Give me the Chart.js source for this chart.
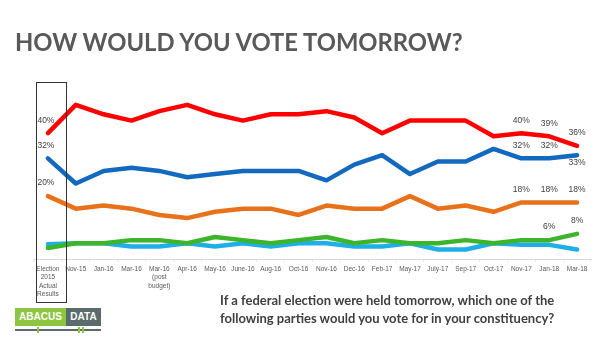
<!DOCTYPE html>
<html>
<head>
<meta charset="utf-8">
<script src="https://cdn.jsdelivr.net/npm/chart.js@4.4.1/dist/chart.umd.min.js"></script>
<style>
  html, body { margin:0; padding:0; background:#fff; }
  #wrap { position:relative; width:610px; height:343px; overflow:hidden; }
  #chart { position:absolute; left:0; top:0; }
  #title {
    position:absolute; left:15px; top:31px; white-space:nowrap;
    font-family:'Lato', 'Liberation Sans', sans-serif; font-weight:700;
    font-size:27px; color:#595959; line-height:1;
  }
  #question {
    position:absolute; left:220px; top:291px; white-space:nowrap;
    font-family:'Lato', 'Liberation Sans', sans-serif; font-weight:700;
    font-size:13px; color:#3f3f3f; line-height:18px;
  }
  .logo { position:absolute; top:308px; height:18px; color:#fff;
    font-family:'Liberation Sans', sans-serif; font-weight:700; font-size:10px;
    line-height:18px; text-align:center; }
  #lg1 { left:15px; width:51px; background:#8cc63e; }
  #lg2 { left:66px; width:35px; background:#5b6b6b; }
  #lgline { position:absolute; left:15px; top:329px; width:86px; height:2px; background:#5b6b6b; }
  .mk { position:absolute; top:327px; width:2px; height:6px; background:#8cc63e; }
</style>
</head>
<body>
<div id="wrap">
  <canvas id="chart" width="610" height="343"></canvas>
  <div id="title">HOW WOULD YOU VOTE TOMORROW?</div>
  <div id="question">If a federal election were held tomorrow, which one of the<br>following parties would you vote for in your constituency?</div>
  <div class="logo" id="lg1">ABACUS</div>
  <div class="logo" id="lg2">DATA</div>
  <div id="lgline"></div>
  <div class="mk" style="left:37px"></div>
  <div class="mk" style="left:78px"></div>
  <div class="mk" style="left:82px"></div>
</div>
<script>
// ---- data ----
const categories = [
  ['Election', '2015', 'Actual', 'Results'], 'Nov-15', 'Jan-16', 'Mar-16', ['Mar-16', '(post', 'budget)'],
  'Apr-16', 'May-16', 'June-16', 'Aug-16', 'Oct-16', 'Nov-16', 'Dec-16', 'Feb-17', 'May-17',
  'July-17', 'Sep-17', 'Oct-17', 'Nov-17', 'Jan-18', 'Mar-18'
];
const liberal      = [40, 49, 46, 44, 47, 49, 46, 44, 46, 46, 47, 45, 40, 44, 44, 44, 39, 40, 39, 36];
const conservative = [32, 24, 28, 29, 28, 26, 27, 28, 28, 28, 25, 30, 33, 27, 31, 31, 35, 32, 32, 33];
const ndp          = [20, 16, 17, 16, 14, 13, 15, 16, 16, 14, 17, 16, 16, 20, 16, 17, 15, 18, 18, 18];
const greenParty   = [3.5, 5, 5, 6, 6, 5, 7, 6, 5, 6, 7, 5, 6, 5, 5, 6, 5, 6, 6, 8];
const bloc         = [4.7, 5, 5, 4, 4, 5, 4, 5, 4, 5, 5, 4, 4, 5, 3, 3, 5, 4.5, 4.5, 3];

// which points get a % label: [dataset index, point index, 'up' | 'down']
const pointLabels = [
  [0, 0, 'up'], [1, 0, 'up'], [2, 0, 'up'],
  [0, 17, 'up'], [0, 18, 'up'], [0, 19, 'up'],
  [1, 17, 'up'], [1, 18, 'up'], [1, 19, 'down'],
  [2, 17, 'up'], [2, 18, 'up'], [2, 19, 'up'],
  [3, 18, 'up'], [3, 19, 'up']
];

// ---- fit the overlay texts to the reference widths ----
function fitSize(id, w) {
  const e = document.getElementById(id);
  const cur = e.getBoundingClientRect().width;
  const fs = parseFloat(getComputedStyle(e).fontSize);
  e.style.fontSize = (fs * w / cur) + 'px';
}
fitSize('title', 448);

// ---- plugins ----
const electionBox = {
  id: 'electionBox',
  afterDraw(chart) {
    const { ctx, chartArea, scales: { x } } = chart;
    const x0 = x.getPixelForValue(0);
    const step = x.getPixelForValue(1) - x0;
    ctx.save();
    ctx.strokeStyle = '#333';
    ctx.lineWidth = 1;
    ctx.strokeRect(Math.round(x0 - step * 0.43) + 0.5, chartArea.top - 3.5,
                   Math.round(step * 1.08), chartArea.bottom - chartArea.top + 47);
    ctx.restore();
  }
};

const pctLabels = {
  id: 'pctLabels',
  afterDatasetsDraw(chart) {
    const { ctx } = chart;
    ctx.save();
    ctx.font = '8.5px "Liberation Sans", sans-serif';
    ctx.fillStyle = '#404040';
    ctx.textAlign = 'center';
    ctx.textBaseline = 'middle';
    pointLabels.forEach(([d, i, pos]) => {
      const pt = chart.getDatasetMeta(d).data[i];
      const v = chart.data.datasets[d].data[i];
      const dx = i === 0 ? -2 : 0;
      const dy = pos === 'up' ? -13 : 7;
      ctx.fillText(Math.round(v) + '%', pt.x + dx, pt.y + dy);
    });
    ctx.restore();
  }
};

const mk = (data, color) => ({
  data, borderColor: color, backgroundColor: color, borderWidth: 4.5,
  pointRadius: 0, tension: 0, borderCapStyle: 'round', borderJoinStyle: 'round'
});

new Chart(document.getElementById('chart'), {
  type: 'line',
  data: {
    labels: categories,
    datasets: [
      mk(liberal, '#ff0000'),
      mk(conservative, '#1269bd'),
      mk(ndp, '#e8721c'),
      mk(greenParty, '#3cb52a'),
      mk(bloc, '#1eaee8')
    ]
  },
  options: {
    responsive: false,
    animation: false,
    layout: { padding: { left: 34, right: 19, top: 86, bottom: 39 } },
    plugins: { legend: { display: false }, tooltip: { enabled: false } },
    scales: {
      y: { display: false, min: 0, max: 55 },
      x: {
        offset: true,
        afterFit: s => { s.height = 45; },
        border: { color: '#d9d9d9' },
        grid: { drawOnChartArea: false, offset: true, tickLength: 3, color: '#e4e4e4' },
        ticks: {
          autoSkip: false, maxRotation: 0, padding: 3, color: '#595959',
          font: { family: 'Liberation Sans', size: 6.5, lineHeight: 1.3 }
        }
      }
    }
  },
  plugins: [electionBox, pctLabels]
});
</script>
</body>
</html>
